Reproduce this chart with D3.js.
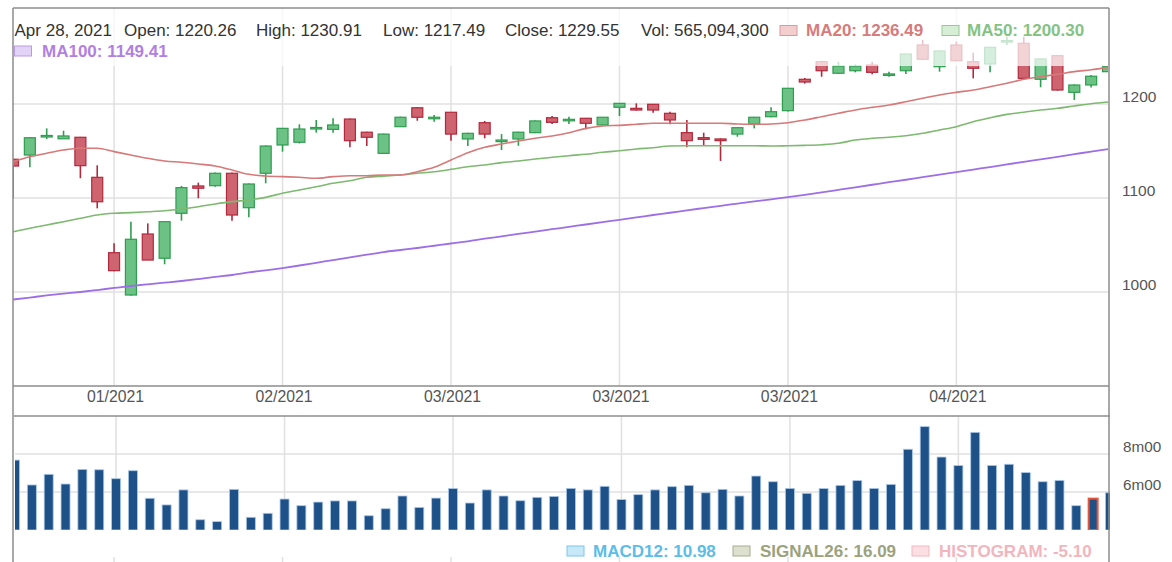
<!DOCTYPE html>
<html>
<head>
<meta charset="utf-8">
<script src="https://cdn.jsdelivr.net/npm/d3@7"></script>
<style>
  html, body { margin: 0; padding: 0; background: #fff; }
  svg { display: block; font-family: "Liberation Sans", Arial, sans-serif; }
</style>
</head>
<body>
<svg id="chart" width="1172" height="562"></svg>
<script>
// ---------------- DATA ----------------
const open = [1141.2,1145.7,1165.5,1163.0,1164.6,1122.0,1041.8,996.8,1061.7,1035.9,
  1083.7,1112.8,1113.1,1126.3,1089.7,1126.3,1156.4,1159.3,1173.5,1173.0,
  1184.0,1170.0,1147.5,1175.9,1196.0,1184.4,1191.2,1162.8,1180.1,1160.0,
  1162.8,1169.5,1185.4,1182.3,1184.8,1177.7,1196.5,1195.4,1199.7,1190.1,
  1169.5,1164.2,1162.8,1168.0,1178.7,1186.5,1192.9,1226.3,1245.0,1232.7,
  1235.4,1241.5,1230.9,1235.4,1262.8,1239.7,1262.8,1245.0,1242.6,1266.5,
  1264.6,1226.3,1251.4,1212.4,1220.26,1234.4];
const high = [1142.0,1164.5,1174.1,1171.6,1165.0,1134.8,1051.8,1074.8,1073.0,1075.0,
  1112.8,1116.3,1127.0,1127.0,1115.5,1156.0,1174.5,1178.4,1183.0,1184.8,
  1184.5,1170.5,1168.5,1186.5,1196.5,1188.3,1191.5,1169.5,1182.0,1168.0,
  1170.5,1182.5,1187.2,1186.5,1185.0,1186.2,1201.0,1200.7,1200.0,1191.8,
  1183.0,1169.5,1163.5,1175.2,1186.3,1196.5,1217.0,1227.7,1246.0,1245.0,
  1242.2,1245.0,1234.4,1253.5,1268.1,1256.8,1266.3,1254.6,1260.6,1271.6,
  1271.6,1248.2,1252.0,1221.0,1230.91,1240.0];
const low = [1100.0,1132.7,1162.8,1163.0,1121.0,1089.0,1022.0,996.0,1034.0,1029.5,
  1075.9,1099.7,1112.0,1075.9,1079.5,1115.6,1149.3,1158.0,1169.5,1169.5,
  1154.0,1155.3,1147.0,1175.5,1182.2,1181.2,1161.0,1155.3,1163.5,1151.0,
  1155.6,1169.0,1178.7,1178.7,1173.0,1177.0,1187.2,1193.0,1190.7,1178.4,
  1154.0,1155.3,1139.4,1165.2,1174.1,1186.0,1192.0,1221.7,1229.0,1232.0,
  1233.7,1231.6,1229.0,1231.9,1247.0,1234.4,1245.5,1227.3,1233.7,1262.8,
  1227.0,1217.8,1214.2,1204.3,1217.49,1234.0];
const close = [1134.0,1164.1,1166.5,1166.0,1134.4,1096.0,1022.7,1056.1,1034.0,1074.8,
  1111.0,1110.4,1126.3,1081.9,1114.9,1155.3,1174.1,1173.4,1175.0,1177.7,
  1161.0,1164.6,1168.0,1185.9,1185.9,1185.9,1168.0,1168.8,1168.0,1161.7,
  1170.0,1182.0,1180.5,1183.7,1179.5,1185.9,1200.7,1193.6,1193.6,1183.0,
  1161.0,1162.4,1161.0,1174.8,1185.9,1191.8,1216.7,1223.4,1235.4,1240.4,
  1240.4,1233.7,1232.0,1253.2,1247.6,1256.4,1246.1,1238.0,1260.3,1267.5,
  1227.3,1247.9,1214.9,1220.2,1229.55,1239.7];
// volume in millions
const volume = [768,637,693,642,719,717,670,712,567,532,
  611,454,444,614,467,488,563,528,547,553,
  553,475,512,579,519,568,618,542,611,579,
  554,572,577,619,611,630,560,586,611,628,
  635,596,614,579,684,654,619,593,618,635,
  660,619,640,825,944,784,739,914,740,746,
  702,654,661,528,565.0943,596];
const ma20 = [1138.6,1143.9,1147.6,1151.1,1152.9,1152.9,1149.3,1145.7,1142.2,1139.4,
  1138.0,1136.2,1134.0,1129.8,1125.2,1123.4,1122.7,1122.0,1121.0,1122.7,
  1123.7,1123.7,1124.5,1124.5,1128.0,1132.7,1140.4,1148.2,1153.9,1157.4,
  1160.6,1163.5,1166.0,1169.5,1174.1,1176.6,1177.3,1178.4,1179.5,1179.5,
  1179.5,1179.5,1179.5,1178.7,1178.4,1178.7,1180.1,1183.0,1186.5,1190.1,
  1193.6,1196.4,1198.9,1202.4,1206.1,1209.6,1212.4,1214.9,1218.4,1222.0,
  1226.3,1229.0,1231.6,1234.4,1236.49,1239.0];
const ma50 = [1064.1,1067.8,1071.3,1074.8,1078.4,1081.9,1083.7,1084.4,1085.4,1086.5,
  1088.3,1090.7,1093.6,1096.1,1097.9,1100.7,1105.0,1108.5,1112.0,1115.6,
  1118.4,1122.0,1123.3,1124.5,1126.3,1128.0,1130.5,1133.3,1135.1,1137.6,
  1139.4,1141.5,1143.3,1145.0,1146.5,1148.6,1150.3,1152.1,1153.5,1155.3,
  1155.6,1155.6,1155.6,1155.6,1155.6,1155.3,1155.6,1156.0,1156.7,1158.2,
  1161.7,1163.5,1164.6,1166.3,1168.8,1172.3,1175.9,1181.2,1185.4,1189.0,
  1191.2,1193.6,1195.4,1197.9,1200.30,1202.1];
const ma100 = [992.0,994.1,996.3,998.2,1000.0,1002.1,1004.3,1006.4,1008.2,1009.9,
  1011.7,1013.8,1016.0,1018.1,1020.8,1023.1,1025.5,1028.2,1031.1,1034.0,
  1036.9,1039.7,1042.5,1044.7,1046.8,1049.2,1051.6,1053.9,1056.7,1059.2,
  1061.8,1064.3,1066.8,1069.3,1071.8,1074.3,1076.8,1079.3,1081.9,1084.3,
  1086.9,1089.3,1091.7,1094.0,1096.3,1098.6,1100.9,1103.4,1106.0,1108.7,
  1111.4,1114.1,1116.8,1119.4,1122.2,1124.9,1127.6,1130.3,1132.9,1135.7,
  1138.5,1141.1,1143.8,1146.6,1149.41,1151.9];
const xTickIndex = [6,16,26,36,46,56];
const xTickLabels = ["01/2021","02/2021","03/2021","03/2021","03/2021","04/2021"];
const priceTicks = [1000,1100,1200];
const volTicks = [600,800];
const volTickLabels = ["6m00","8m00"];
const hoverIndex = 64;
const hoverDate = "Apr 28, 2021";
const hoverVolume = "565,094,300";
const macdLegend = [["MACD12", "10.98"],["SIGNAL26", "16.09"],["HISTOGRAM", "-5.10"]];

// ---------------- LAYOUT ----------------
const svg = d3.select("#chart");
const n = open.length;
const M = {l: 13, r: 1108, t: 8, b: 386};
const V = {l: 15, r: 1110, t: 416, b: 530};

const x = d3.scaleLinear().domain([0, n - 1]).range([M.l, M.r]);
const xv = d3.scaleLinear().domain([0, n - 1]).range([V.l, V.r]);
const y = d3.scaleLinear().domain([900, 1300]).range([386, 10]);
const yv = d3.scaleLinear().domain([400, 1000]).range([530, 416]);

const defs = svg.append("defs");
defs.append("clipPath").attr("id", "clipMain").append("rect")
  .attr("x", M.l).attr("y", M.t).attr("width", M.r - M.l).attr("height", M.b - M.t);
defs.append("clipPath").attr("id", "clipVol").append("rect")
  .attr("x", V.l).attr("y", V.t).attr("width", V.r - V.l).attr("height", V.b - V.t);

const gridColor = "#e0e0e0";

// main grid
const gMainGrid = svg.append("g");
gMainGrid.selectAll("line.h").data(priceTicks).join("line")
  .attr("x1", M.l).attr("x2", M.r)
  .attr("y1", d => y(d)).attr("y2", d => y(d))
  .attr("stroke", gridColor).attr("stroke-width", 1.5);
gMainGrid.selectAll("line.v").data(xTickIndex).join("line")
  .attr("x1", d => x(d)).attr("x2", d => x(d))
  .attr("y1", M.t).attr("y2", M.b)
  .attr("stroke", gridColor).attr("stroke-width", 1.5);

// volume grid
const gVolGrid = svg.append("g");
gVolGrid.selectAll("line.h").data(volTicks).join("line")
  .attr("x1", V.l).attr("x2", V.r)
  .attr("y1", d => yv(d)).attr("y2", d => yv(d))
  .attr("stroke", gridColor).attr("stroke-width", 1.5);
gVolGrid.selectAll("line.v").data(xTickIndex).join("line")
  .attr("x1", d => xv(d)).attr("x2", d => xv(d))
  .attr("y1", V.t).attr("y2", V.b)
  .attr("stroke", gridColor).attr("stroke-width", 1.5);
gVolGrid.selectAll("line.t").data(xTickIndex).join("line")
  .attr("x1", d => xv(d) - 2).attr("x2", d => xv(d) - 2)
  .attr("y1", 557).attr("y2", 562)
  .attr("stroke", gridColor).attr("stroke-width", 1.5);

// candles
const idx = d3.range(n);
const upFill = "#6cc184", upStroke = "#2f9d50";
const dnFill = "#cf6471", dnStroke = "#b2283c";
const bodyW = 11;
const gC = svg.append("g").attr("clip-path", "url(#clipMain)");
gC.selectAll("line.wick").data(idx).join("line")
  .attr("x1", i => x(i)).attr("x2", i => x(i))
  .attr("y1", i => y(high[i])).attr("y2", i => y(low[i]))
  .attr("stroke", i => close[i] >= open[i] ? upStroke : dnStroke)
  .attr("stroke-width", 1.6);
gC.selectAll("rect.body").data(idx).join("rect")
  .attr("x", i => x(i) - bodyW / 2)
  .attr("width", bodyW)
  .attr("y", i => y(Math.max(open[i], close[i])))
  .attr("height", i => Math.max(1.5, Math.abs(y(open[i]) - y(close[i]))))
  .attr("fill", i => close[i] >= open[i] ? upFill : dnFill)
  .attr("stroke", i => close[i] >= open[i] ? upStroke : dnStroke)
  .attr("stroke-width", 1.2);

// moving averages
const line = arr => d3.line().x((d, i) => x(i)).y(d => y(d)).curve(d3.curveMonotoneX)(arr);
gC.append("path").attr("d", line(ma100)).attr("fill", "none").attr("stroke", "#9d6fe6").attr("stroke-width", 1.8);
gC.append("path").attr("d", line(ma50)).attr("fill", "none").attr("stroke", "#7db96f").attr("stroke-width", 1.6);
gC.append("path").attr("d", line(ma20)).attr("fill", "none").attr("stroke", "#d87878").attr("stroke-width", 1.6);

// legend overlay (semi-transparent)
svg.append("rect").attr("x", M.l).attr("y", M.t + 1).attr("width", M.r - M.l).attr("height", 66 - M.t - 1)
  .attr("fill", "#fff").attr("opacity", 0.72);

// volume bars
const gV = svg.append("g").attr("clip-path", "url(#clipVol)");
const barW = 9;
gV.selectAll("rect.vol").data(idx).join("rect")
  .attr("x", i => xv(i) - barW / 2)
  .attr("width", barW)
  .attr("y", i => yv(volume[i]))
  .attr("height", i => yv(400) - yv(volume[i]))
  .attr("fill", "#1f5189")
  .attr("stroke", i => i === hoverIndex ? "#e8563a" : "#a9c9ea")
  .attr("stroke-width", i => i === hoverIndex ? 2 : 0.8);

// borders
const border = "#8c8c8c";
svg.append("line").attr("x1", M.l).attr("x2", M.r + 1).attr("y1", M.t).attr("y2", M.t).attr("stroke", border).attr("stroke-width", 1.5);
svg.append("line").attr("x1", M.l).attr("x2", M.r + 1).attr("y1", M.b).attr("y2", M.b).attr("stroke", border).attr("stroke-width", 1.5);
svg.append("line").attr("x1", V.l - 1).attr("x2", V.r).attr("y1", V.t).attr("y2", V.t).attr("stroke", border).attr("stroke-width", 1.5);
svg.append("line").attr("x1", M.l).attr("x2", M.l).attr("y1", M.t).attr("y2", 562).attr("stroke", border).attr("stroke-width", 1.5);
svg.append("line").attr("x1", M.r + 1).attr("x2", M.r + 1).attr("y1", M.t).attr("y2", 562).attr("stroke", border).attr("stroke-width", 1.5);

// axes labels
const axisColor = "#555";
svg.append("g").selectAll("text").data(priceTicks).join("text")
  .attr("x", 1122).attr("y", d => y(d) - 2.3)
  .attr("font-size", "15.5px").attr("fill", axisColor)
  .text(d => d);
svg.append("g").selectAll("text").data(volTicks).join("text")
  .attr("x", 1123).attr("y", d => yv(d) - 2.3)
  .attr("font-size", "15.3px").attr("fill", axisColor)
  .text((d, i) => volTickLabels[i]);
svg.append("g").selectAll("text").data(xTickIndex).join("text")
  .attr("x", d => x(d) + 1.5).attr("y", 402)
  .attr("text-anchor", "middle")
  .attr("font-size", "15.8px").attr("fill", axisColor)
  .text((d, i) => xTickLabels[i]);

// top legend
const txt = "#333";
const fmt = d3.format(".2f");
const legendItems = [
  {x: 14.5, t: hoverDate},
  {x: 124, t: "Open: " + fmt(open[hoverIndex])},
  {x: 256, t: "High: " + fmt(high[hoverIndex])},
  {x: 383, t: "Low: " + fmt(low[hoverIndex])},
  {x: 505, t: "Close: " + fmt(close[hoverIndex])},
  {x: 641, t: "Vol: " + hoverVolume}
];
svg.append("g").selectAll("text").data(legendItems).join("text")
  .attr("x", d => d.x).attr("y", 36)
  .attr("font-size", "17px").attr("fill", txt)
  .text(d => d.t);

const maLegend = [
  {sx: 780, tx: 806, y: 36, label: "MA20: " + fmt(ma20[hoverIndex]), c: "#d77b7b", f: "#f4cdce", s: "#d99a9a"},
  {sx: 942, tx: 967, y: 36, label: "MA50: " + fmt(ma50[hoverIndex]), c: "#84c384", f: "#d5eed5", s: "#98c898"},
  {sx: 14.5, tx: 42, y: 56.5, label: "MA100: " + fmt(ma100[hoverIndex]), c: "#b27fe3", f: "#e3d4f7", s: "#b99ae6"}
];
const gML = svg.append("g");
gML.selectAll("rect").data(maLegend).join("rect")
  .attr("x", d => d.sx).attr("y", d => d.y - 10.5).attr("width", 17).attr("height", 10)
  .attr("fill", d => d.f).attr("stroke", d => d.s).attr("stroke-width", 1);
gML.selectAll("text").data(maLegend).join("text")
  .attr("x", d => d.tx).attr("y", d => d.y)
  .attr("font-size", "17px").attr("font-weight", "bold").attr("fill", d => d.c)
  .text(d => d.label);

// bottom legend
const bottomLegend = [
  {sx: 567, tx: 593, c: "#5bbde9", f: "#c7e8f8", s: "#7cc6ea"},
  {sx: 733, tx: 760, c: "#9ba27c", f: "#dde0cf", s: "#a8ad8f"},
  {sx: 912, tx: 939, c: "#f3b5bd", f: "#fcdfe2", s: "#f1b8bf"}
];
const gBL = svg.append("g");
gBL.selectAll("rect").data(bottomLegend).join("rect")
  .attr("x", d => d.sx).attr("y", 546).attr("width", 17).attr("height", 10)
  .attr("fill", d => d.f).attr("stroke", d => d.s).attr("stroke-width", 1);
gBL.selectAll("text").data(bottomLegend).join("text")
  .attr("x", d => d.tx).attr("y", 556.5)
  .attr("font-size", "17px").attr("font-weight", "bold").attr("fill", d => d.c)
  .text((d, i) => macdLegend[i][0] + ": " + macdLegend[i][1]);
</script>
</body>
</html>
